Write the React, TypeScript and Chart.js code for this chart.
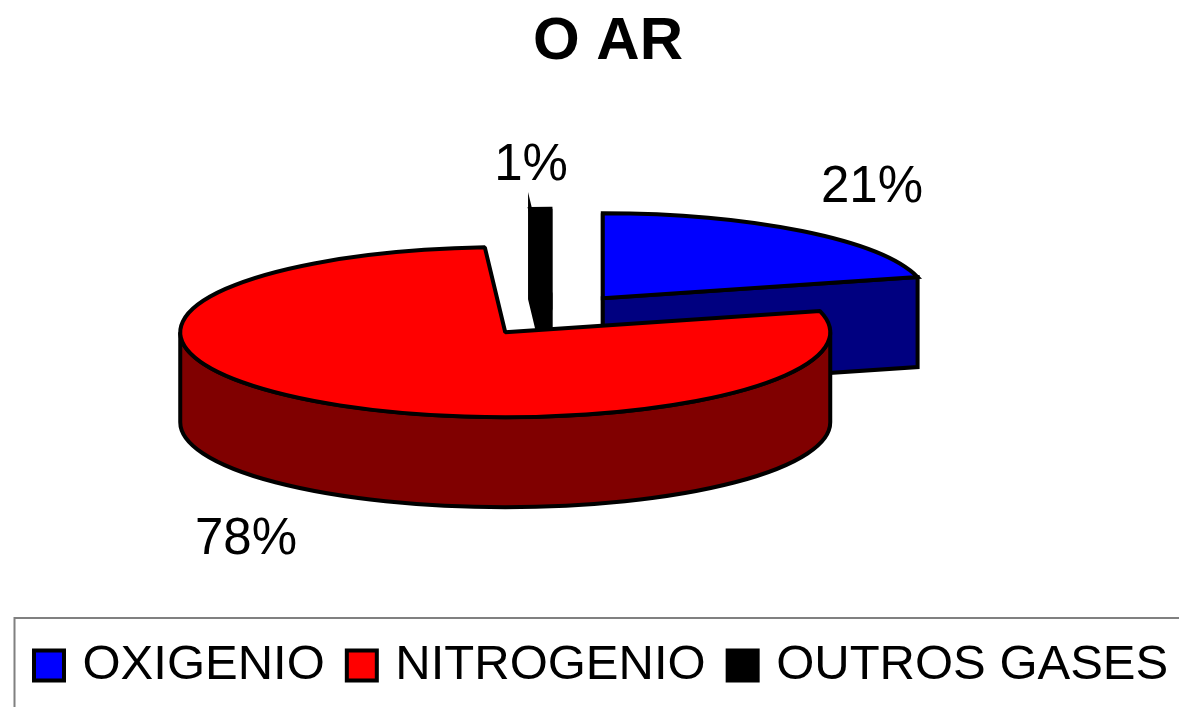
import React, { useEffect, useRef } from "react";
import { Chart, registerables } from "chart.js";

Chart.register(...registerables);

const categories = ["OXIGENIO", "NITROGENIO", "OUTROS GASES"];
const shares = [21, 78, 1];
const topColors = ["#0000ff", "#ff0000", "#000000"];
const wallColors = ["#000080", "#800000", "#000000"];
const chartTitle = "O AR";

const FONT = "'Liberation Sans', Arial, sans-serif";
const PIE_R = 200;
const CENTER = { x: 553, y: 315 };
const RX = 325;
const RY = 85;
const DEPTH = 90;
const EXPLODE = 0.25;
const EDGE = 4;
const FRAME_TOP = 618;
const labelSpots = [
  { x: 872, y: 188 },
  { x: 246, y: 540 },
  { x: 531, y: 166 },
];

const pie3d = {
  id: "pie3d",
  beforeDatasetsDraw(chart: any) {
    const { ctx } = chart;
    const meta = chart.getDatasetMeta(0);
    const sx = RX / PIE_R;
    const sy = RY / PIE_R;
    // back to front
    [0, 2, 1].forEach((i) => {
      const el = meta.data[i];
      const { startAngle: a0, endAngle: a1, x, y, outerRadius } = el;
      const mid = (a0 + a1) / 2;
      const off = EXPLODE * outerRadius;
      const cx = CENTER.x + Math.cos(mid) * off * sx;
      const cy = CENTER.y + Math.sin(mid) * off * sy;
      const rx = outerRadius * sx;
      const ry = outerRadius * sy;
      const px = (a: number) => cx + Math.cos(a) * rx;
      const py = (a: number) => cy + Math.sin(a) * ry;
      const wide = a1 - a0 > Math.PI;
      ctx.save();
      ctx.lineWidth = EDGE;
      ctx.lineJoin = "miter";
      ctx.miterLimit = wide ? 1 : 10;
      ctx.strokeStyle = "#000";
      ctx.fillStyle = wallColors[i];
      // radial cut faces: a wide slice hides its own behind the top face
      if (!wide) {
        [a0, a1].forEach((a) => {
          ctx.beginPath();
          ctx.moveTo(cx, cy);
          ctx.lineTo(px(a), py(a));
          ctx.lineTo(px(a), py(a) + DEPTH);
          ctx.lineTo(cx, cy + DEPTH);
          ctx.closePath();
          ctx.fill();
          ctx.stroke();
        });
      }
      // outer wall: the lower half of the rim
      const lo = Math.max(a0, 0);
      const hi = Math.min(a1, Math.PI);
      if (hi > lo) {
        ctx.beginPath();
        ctx.ellipse(cx, cy, rx, ry, 0, lo, hi);
        ctx.ellipse(cx, cy + DEPTH, rx, ry, 0, hi, lo, true);
        ctx.closePath();
        ctx.fill();
        ctx.stroke();
      }
      // the top face, drawn by the library's own arc element
      ctx.save();
      ctx.translate(cx, cy);
      ctx.scale(sx, sy);
      ctx.translate(-x, -y);
      el.draw(ctx);
      ctx.restore();
      ctx.beginPath();
      ctx.moveTo(cx, cy);
      ctx.ellipse(cx, cy, rx, ry, 0, a0, a1);
      ctx.closePath();
      ctx.stroke();
      ctx.restore();
    });
    return false;
  },
  afterDraw(chart: any) {
    const { ctx } = chart;
    ctx.save();
    ctx.fillStyle = "#000";
    ctx.font = `51px ${FONT}`;
    ctx.textAlign = "center";
    ctx.textBaseline = "middle";
    shares.forEach((v, i) => ctx.fillText(`${v}%`, labelSpots[i].x, labelSpots[i].y));
    ctx.strokeStyle = "#808080";
    ctx.lineWidth = 2;
    ctx.strokeRect(chart.legend.left + 2.5, FRAME_TOP, chart.width + 20, 200);
    ctx.restore();
  },
};

export default function App() {
  const ref = useRef<HTMLCanvasElement>(null);
  useEffect(() => {
    document.body.style.margin = "0";
    document.body.style.background = "#fff";
    const chart = new Chart(ref.current!, {
      type: "pie",
      data: {
        labels: categories,
        datasets: [
          {
            data: shares,
            backgroundColor: topColors,
            borderWidth: 0,
          },
        ],
      },
      options: {
        responsive: false,
        animation: false,
        radius: PIE_R,
        layout: { padding: { left: 12, bottom: 17 } },
        plugins: {
          tooltip: { enabled: false },
          title: {
            display: true,
            text: chartTitle,
            color: "#000",
            font: { family: FONT, size: 60, weight: "bold" },
            padding: { top: 6, bottom: 10 },
          },
          legend: {
            position: "bottom",
            align: "start",
            labels: {
              color: "#000",
              font: { family: FONT, size: 49 },
              usePointStyle: true,
              pointStyle: "rect",
              boxWidth: 18,
              boxHeight: 30,
              padding: 28,
              generateLabels: () =>
                categories.map((text, i) => ({
                  text,
                  fillStyle: topColors[i],
                  strokeStyle: "#000",
                  lineWidth: EDGE,
                  pointStyle: "rect",
                  index: i,
                })),
            },
          },
        },
      } as any,
      plugins: [pie3d as any],
    });
    return () => chart.destroy();
  }, []);
  return (
    <div style={{ position: "fixed", left: 0, top: 0, width: 1179, height: 707, overflow: "hidden", background: "#fff" }}>
      <canvas ref={ref} width={1204} height={717} style={{ display: "block", width: 1204, height: 717 }} />
    </div>
  );
}
